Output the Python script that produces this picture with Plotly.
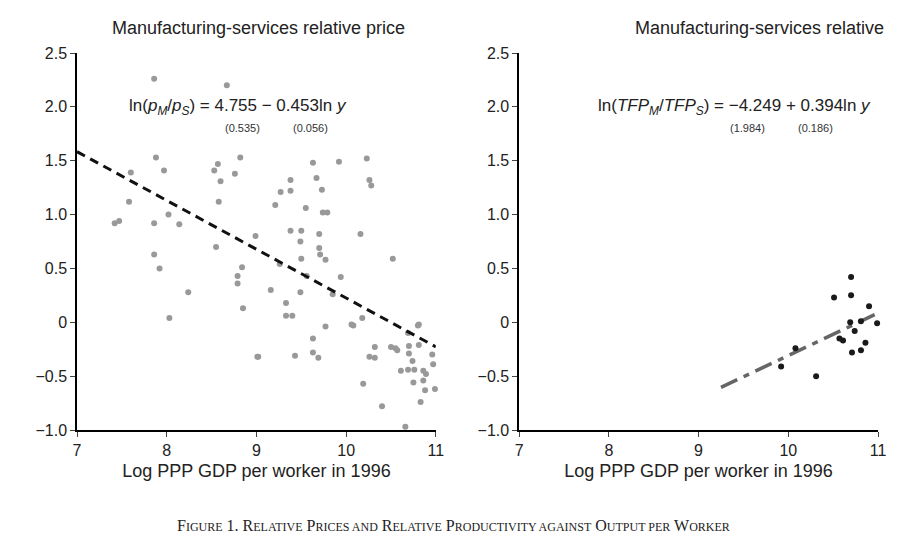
import plotly.graph_objects as go

px_x = [6.94,7.86,8.67,7.88,7.97,7.60,7.58,7.42,7.47,7.86,8.02,8.14,7.86,7.92,8.24,8.03,
        8.53,8.57,8.60,8.58,8.82,8.76,8.55,8.84,8.79,8.79,8.85,8.99,9.02,9.01,9.21,9.27,9.38,9.38,
        9.55,9.38,9.50,9.49,9.50,9.26,9.56,9.49,9.16,9.33,9.33,9.40,9.43,9.63,9.63,9.69,9.63,9.67,
        9.73,9.74,9.79,9.70,9.70,9.71,9.77,9.77,9.85,9.94,9.92,10.06,10.08,10.16,10.18,10.23,10.26,
        10.28,10.19,10.32,10.26,10.32,10.40,10.52,10.50,10.55,10.57,10.61,10.66,10.69,10.70,10.70,
        10.69,10.74,10.76,10.75,10.80,10.81,10.81,10.83,10.86,10.89,10.86,10.88,10.96,10.97,10.99]
px_y = [0.78,2.26,2.20,1.53,1.41,1.39,1.12,0.92,0.94,0.92,1.00,0.91,0.63,0.50,0.28,0.04,
        1.41,1.47,1.31,1.12,1.53,1.38,0.70,0.51,0.43,0.36,0.13,0.80,-0.32,-0.32,1.09,1.21,1.32,1.22,
        1.06,0.85,0.85,0.75,0.59,0.54,0.43,0.28,0.30,0.18,0.06,0.06,-0.31,-0.15,-0.28,-0.33,1.48,1.34,
        1.23,1.02,1.02,0.82,0.69,0.63,0.58,-0.04,0.26,0.42,1.49,-0.02,-0.03,0.82,0.04,1.52,1.32,
        1.27,-0.57,-0.23,-0.32,-0.33,-0.78,0.59,-0.23,-0.24,-0.26,-0.45,-0.97,-0.44,-0.29,-0.22,
        -0.10,-0.36,-0.44,-0.56,-0.03,-0.02,-0.21,-0.74,-0.45,-0.48,-0.54,-0.63,-0.30,-0.39,-0.62]
tfp_x = [10.70,10.70,10.51,10.90,10.69,10.81,10.99,10.74,10.57,10.61,10.86,10.81,10.71,10.08,9.92,10.31]
tfp_y = [0.42,0.25,0.23,0.15,0.00,0.01,-0.01,-0.08,-0.15,-0.17,-0.19,-0.26,-0.28,-0.24,-0.41,-0.50]
price_coef = [4.755, -0.453]
tfp_coef = [-4.249, 0.394]
price_line_x = [7.0, 11.0]
tfp_line_x = [9.25, 11.0]
yticks = [2.5, 2.0, 1.5, 1.0, 0.5, 0, -0.5, -1.0]
ytick_text = ["2.5", "2.0", "1.5", "1.0", "0.5", "0", "−0.5", "−1.0"]
xticks = [7, 8, 9, 10, 11]

fig = go.Figure()
fig.add_trace(go.Scatter(x=px_x, y=px_y, mode="markers", marker=dict(size=6, color="#999999"),
                         xaxis="x", yaxis="y", cliponaxis=False))
fig.add_trace(go.Scatter(x=price_line_x, y=[price_coef[0] + price_coef[1]*v for v in price_line_x],
                         mode="lines", line=dict(color="#111111", width=3, dash="9px,6px"), xaxis="x", yaxis="y"))
fig.add_trace(go.Scatter(x=tfp_line_x, y=[tfp_coef[0] + tfp_coef[1]*v for v in tfp_line_x],
                         mode="lines", line=dict(color="#666666", width=3.5, dash="18px,7px,6px,7px"), xaxis="x2", yaxis="y2"))
fig.add_trace(go.Scatter(x=tfp_x, y=tfp_y, mode="markers", marker=dict(size=6, color="#1a1a1a"),
                         xaxis="x2", yaxis="y2", cliponaxis=False))

ax = dict(range=[7, 11], tickvals=xticks, showline=True, linecolor="black", linewidth=1.5, ticks="outside",
          ticklen=5, showgrid=False, zeroline=False, tickfont=dict(size=16, color="#222"), automargin=False,
          title=dict(text="Log PPP GDP per worker in 1996", font=dict(size=18, color="#222"), standoff=6))
ay = dict(range=[-1.0, 2.5], tickvals=yticks, ticktext=ytick_text, showline=True, linecolor="black", linewidth=1.5,
          ticks="outside", ticklen=5, showgrid=False, zeroline=False, tickfont=dict(size=16, color="#222"),
          automargin=False)
fig.update_layout(
    width=897, height=552, margin=dict(l=69, r=27, t=45, b=130), showlegend=False,
    plot_bgcolor="white", paper_bgcolor="white", font=dict(family="Liberation Sans, Arial"),
    xaxis=dict(ax, domain=[0, 0.448], anchor="y"),
    yaxis=dict(ay, domain=[0, 1], anchor="x"),
    xaxis2=dict(ax, domain=[0.552, 1.0], anchor="y2"),
    yaxis2=dict(ay, domain=[0, 1], anchor="x2"),
)
ann = [
    dict(text="Manufacturing-services relative price", x=0.226, y=1.066, xref="paper", yref="paper",
         xanchor="center", yanchor="middle", showarrow=False, font=dict(size=18, color="#222")),
    dict(text="Manufacturing-services relative TFP", x=0.876, y=1.066, xref="paper", yref="paper",
         xanchor="center", yanchor="middle", showarrow=False, font=dict(size=18, color="#222")),
    dict(text="ln(<i>p<sub>M</sub></i>/<i>p<sub>S</sub></i>) = 4.755 − 0.453ln <i>y</i>", x=8.8, y=2.0,
         xref="x", yref="y", showarrow=False, font=dict(size=17, color="#222"), xanchor="center"),
    dict(text="(0.535)", x=8.85, y=1.8, xref="x", yref="y", showarrow=False, font=dict(size=11, color="#333")),
    dict(text="(0.056)", x=9.6, y=1.8, xref="x", yref="y", showarrow=False, font=dict(size=11, color="#333")),
    dict(text="ln(<i>TFP<sub>M</sub></i>/<i>TFP<sub>S</sub></i>) = −4.249 + 0.394ln <i>y</i>", x=9.4, y=2.0,
         xref="x2", yref="y2", showarrow=False, font=dict(size=17, color="#222"), xanchor="center"),
    dict(text="(1.984)", x=9.55, y=1.8, xref="x2", yref="y2", showarrow=False, font=dict(size=11, color="#333")),
    dict(text="(0.186)", x=10.3, y=1.8, xref="x2", yref="y2", showarrow=False, font=dict(size=11, color="#333")),
    dict(text="F<span style='font-size:12px'>IGURE</span> 1. R<span style='font-size:12px'>ELATIVE</span> P<span style='font-size:12px'>RICES AND</span> R<span style='font-size:12px'>ELATIVE</span> P<span style='font-size:12px'>RODUCTIVITY AGAINST</span> O<span style='font-size:12px'>UTPUT PER</span> W<span style='font-size:12px'>ORKER</span>",
         x=0.47, y=-0.252, xref="paper", yref="paper", showarrow=False, yanchor="middle",
         font=dict(size=16, color="#222", family="Liberation Serif, Times New Roman")),
]
fig.update_layout(annotations=ann)
fig.write_html("out.html")
